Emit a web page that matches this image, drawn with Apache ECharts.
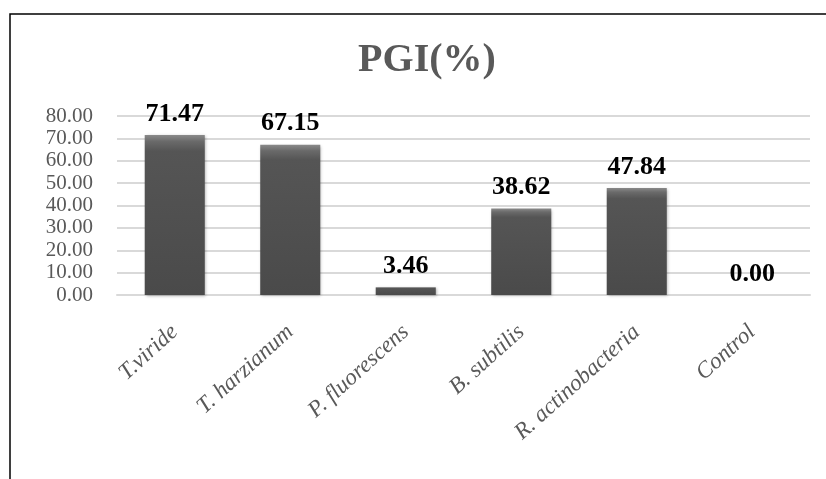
<!DOCTYPE html>
<html>
<head>
<meta charset="utf-8">
<script src="https://cdn.jsdelivr.net/npm/echarts@6/dist/echarts.min.js"></script>
<style>
  html, body { margin: 0; padding: 0; background: #fff; }
  #chart { width: 826px; height: 479px; }
</style>
</head>
<body>
<div id="chart"></div>
<script>
var categories = ['T.viride', 'T. harzianum', 'P. fluorescens', 'B. subtilis', 'R. actinobacteria', 'Control'];
var pgiValues = [71.47, 67.15, 3.46, 38.62, 47.84, 0.00];
var yMin = 0, yMax = 80, yStep = 10;

var myChart = echarts.init(document.getElementById('chart'));

var option = {
  backgroundColor: '#fff',
  animation: false,
  title: {
    text: 'PGI(%)',
    left: 422,
    textAlign: 'center',
    top: 36,
    textStyle: {
      fontFamily: 'Liberation Serif',
      fontWeight: 'bold',
      fontSize: 40,
      color: '#595959'
    }
  },
  graphic: [
    {
      // chart border (cropped on the right and bottom)
      type: 'rect',
      shape: { x: 10, y: 14, width: 900, height: 600 },
      style: { fill: 'none', stroke: '#000', lineWidth: 1.5 },
      silent: true
    }
  ],
  grid: { left: 117, right: 16, top: 116, bottom: 184 },
  xAxis: {
    type: 'category',
    data: categories,
    axisLine: { show: true, lineStyle: { color: '#d9d9d9', width: 2 } },
    axisTick: { show: false },
    axisLabel: {
      rotate: 42,
      interval: 0,
      margin: 34,
      fontFamily: 'Liberation Serif',
      fontStyle: 'italic',
      fontSize: 23,
      color: '#595959'
    }
  },
  yAxis: {
    type: 'value',
    min: yMin,
    max: yMax,
    interval: yStep,
    axisLine: { show: false },
    axisTick: { show: false },
    splitLine: { lineStyle: { color: '#d9d9d9', width: 2 } },
    axisLabel: {
      margin: 24,
      showMinLabel: true,
      showMaxLabel: true,
      hideOverlap: false,
      fontFamily: 'Liberation Serif',
      fontSize: 21,
      lineHeight: 20,
      color: '#595959',
      formatter: function (v) { return v.toFixed(2); }
    }
  },
  series: [
    {
      type: 'bar',
      data: pgiValues,
      barWidth: '52%',
      itemStyle: {
        color: {
          type: 'linear', x: 0, y: 0, x2: 0, y2: 1,
          colorStops: [
            { offset: 0, color: '#8a8a8a' },
            { offset: 0.04, color: '#6a6a6a' },
            { offset: 0.1, color: '#555555' },
            { offset: 1, color: '#4a4a4a' }
          ]
        },
        borderWidth: 0,
        shadowColor: 'rgba(0,0,0,0.3)',
        shadowBlur: 3,
        shadowOffsetX: 1,
        shadowOffsetY: 1
      },
      label: {
        show: true,
        position: 'top',
        distance: 8,
        fontFamily: 'Liberation Serif',
        fontWeight: 'bold',
        fontSize: 26,
        color: '#000',
        formatter: function (p) { return p.value.toFixed(2); }
      }
    }
  ]
};

myChart.setOption(option, true);
</script>
</body>
</html>
